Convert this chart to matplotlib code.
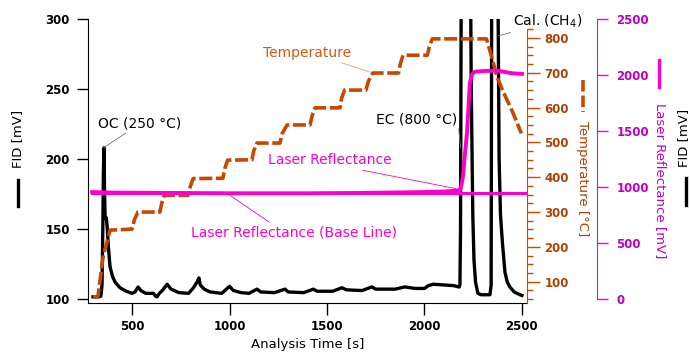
import numpy as np
import matplotlib
matplotlib.use("Agg")
import matplotlib.pyplot as plt
from matplotlib.lines import Line2D

# FID signal [mV]
fid_t = [300, 330, 340, 346, 350, 353, 356, 359, 362, 368, 372, 378, 387, 400, 413, 438, 470, 500,
         515, 531, 545, 570, 610, 620, 628, 640, 655, 680, 700, 740, 790, 815, 833, 843, 850, 870,
         900, 960, 1000, 1020, 1060, 1100, 1141, 1160, 1230, 1285, 1300, 1380, 1430, 1450, 1530,
         1576, 1600, 1680, 1730, 1750, 1850, 1900, 1950, 2000, 2020, 2045, 2100, 2150, 2178,
         2182, 2185, 2190, 2200, 2215, 2225, 2233, 2240, 2248, 2254, 2262, 2274, 2290, 2336,
         2342, 2346, 2355, 2365, 2372, 2378, 2383, 2390, 2400, 2413, 2425, 2438, 2460, 2490, 2500]
fid_v = [101.5, 101.5, 102, 110, 150, 190, 208, 175, 158, 158, 152, 138, 123, 116, 112, 108, 105.5, 104,
         105, 108.5, 106, 104, 104, 102, 101.5, 104, 106, 110.5, 107, 104.5, 104, 108, 112, 115, 110, 107,
         105, 104, 109, 106, 104.5, 104, 107, 105, 104.5, 107, 105, 104.5, 107, 105.5, 105.5,
         108, 106.5, 106, 108.6, 107, 107, 108.6, 107.5, 107.5, 109.5, 110.5, 110, 109.5, 108.5,
         110, 150, 400, 1500, 2500, 1500, 400, 250, 160, 128, 112, 104, 103, 103,
         110, 400, 2000, 2500, 1000, 300, 200, 160, 140, 119, 112, 108.6, 105, 103, 102.5]

# oven temperature [C]
temp_t = [300, 325, 351, 387, 500, 512, 530, 643, 652, 665, 787, 798, 813, 966, 976, 990,
          1115, 1124, 1140, 1259, 1270, 1295, 1413, 1423, 1438, 1567, 1574, 1590, 1700, 1712, 1735,
          1867, 1876, 1890, 2015, 2025, 2040, 2318, 2345, 2372, 2400, 2450, 2497]
temp_v = [56, 58, 170, 248, 251, 278, 300, 300, 325, 348, 348, 372, 396, 397, 425, 449,
          450, 475, 498, 498, 525, 550, 550, 575, 599, 599, 625, 650, 650, 675, 699,
          699, 725, 750, 750, 775, 797, 797, 745, 688, 650, 590, 526]

# laser reflectance [mV]
laser_t = [295, 400, 600, 800, 1000, 1200, 1400, 1600, 1800, 2000, 2100, 2150, 2170, 2182,
           2190, 2197, 2208, 2218, 2226, 2233, 2245, 2260, 2300, 2372, 2450, 2500]
laser_v = [955, 950, 948, 946, 944, 944, 944, 946, 950, 955, 960, 965, 968, 975,
           1020, 1090, 1300, 1480, 1720, 1930, 2010, 2030, 2035, 2040, 2015, 2010]
base_t = [295, 2515]
base_v = [944, 944]

x_ticks = [500, 1000, 1500, 2000, 2500]
fid_ticks = [100, 150, 200, 250, 300]
temp_ticks = [100, 200, 300, 400, 500, 600, 700, 800]
laser_ticks = [0, 500, 1000, 1500, 2000, 2500]

c_temp = "#c84800"
c_temp_lbl = "#b04000"
c_laser = "#ff00cc"
c_laser_lbl = "#c000c0"

fig = plt.figure(figsize=(6.9, 3.63), dpi=100)
ax = fig.add_axes([88/690, 1-303/363, 439/690, 284/363])
ax_t = ax.twinx()
ax_l = ax.twinx()

ax.plot(fid_t, fid_v, color="black", lw=2.4, solid_joinstyle="round")
ax_t.plot(temp_t, temp_v, color=c_temp, lw=2.6, dashes=(3.6, 1.0))
ax_l.plot(base_t, base_v, color=c_laser, lw=2.2)
ax_l.plot(laser_t, laser_v, color=c_laser, lw=2.8)

ax.set_xlim(274, 2526)
ax.set_ylim(97.1, 300)
ax_t.set_ylim(39, 854)
ax_l.set_ylim(-35.7, 2500)

# FID axis
for s in ["top", "right"]:
    ax.spines[s].set_visible(False)
ax.set_xticks(x_ticks)
ax.set_xticklabels([str(v) for v in x_ticks], fontweight="bold", fontsize=8.5)
ax.set_yticks(fid_ticks)
ax.set_yticklabels([str(v) for v in fid_ticks], fontweight="bold", fontsize=8.5)
ax.tick_params(axis="x", length=8.5, width=1, pad=4)
ax.tick_params(axis="y", length=8, width=1, pad=5)
ax.set_xlabel("Analysis Time [s]", fontsize=9.5, labelpad=3)

# temperature axis
for s in ["top", "left", "bottom"]:
    ax_t.spines[s].set_visible(False)
ax_t.spines["right"].set_color(c_temp)
ax_t.spines["right"].set_bounds(39, 826)
ax_t.set_yticks(temp_ticks)
ax_t.set_yticklabels([str(v) for v in temp_ticks], fontweight="bold", fontsize=8.5, color=c_temp_lbl)
ax_t.set_yticks([v for v in np.arange(50, 826, 25) if v % 100 != 0], minor=True)
ax_t.tick_params(axis="y", which="major", length=9.5, width=1, color=c_temp, pad=3)
ax_t.tick_params(axis="y", which="minor", length=4.5, width=1, color=c_temp)

# laser axis
for s in ["top", "left", "bottom"]:
    ax_l.spines[s].set_visible(False)
ax_l.spines["right"].set_position(("axes", 509/439))
ax_l.spines["right"].set_color(c_laser)
ax_l.spines["right"].set_bounds(0, 2500)
ax_l.set_yticks(laser_ticks)
ax_l.set_yticklabels([str(v) for v in laser_ticks], fontweight="bold", fontsize=8.5, color=c_laser_lbl)
ax_l.tick_params(axis="y", length=8, width=1, color=c_laser, pad=6)

# annotations
lead = dict(arrowstyle="-", color="#707070", lw=0.6, shrinkA=0, shrinkB=0)
ax_l.annotate("OC (250 °C)", xy=(354, 208), xycoords=ax.transData,
              xytext=(541, 225.5), textcoords=ax.transData, ha="center", va="center",
              fontsize=10, arrowprops=dict(lead, relpos=(0.38, 0.0)))
ax_l.annotate("EC (800 °C)", xy=(2186, 208), xycoords=ax.transData,
              xytext=(1960, 228.5), textcoords=ax.transData, ha="center", va="center",
              fontsize=10, arrowprops=dict(lead, relpos=(1.0, 0.7)))
ax_l.annotate("Cal. (CH$_4$)", xy=(2380, 288), xycoords=ax.transData,
              xytext=(2630, 298.5), textcoords=ax.transData, ha="center", va="center",
              fontsize=10, annotation_clip=False, arrowprops=dict(lead, relpos=(0.12, 0.0)))
ax_l.annotate("Temperature", xy=(1722, 262), xycoords=ax.transData,
              xytext=(1397, 275.7), textcoords=ax.transData, ha="center", va="center",
              fontsize=10, color="#d05a14",
              arrowprops=dict(lead, color="#f0a070", relpos=(0.8, 0.0)))
ax_l.annotate("Laser Reflectance", xy=(2163, 985), xytext=(1515, 1237),
              ha="center", va="center", fontsize=10, color=c_laser,
              arrowprops=dict(lead, color=c_laser, relpos=(0.65, 0.0)))
ax_l.annotate("Laser Reflectance (Base Line)", xy=(987, 944), xytext=(1331, 598),
              ha="center", va="center", fontsize=10, color=c_laser,
              arrowprops=dict(lead, color=c_laser, relpos=(0.4, 1.0)))

# axis titles with line samples
def fx(px):
    return px / 690

def fy(py):
    return 1 - py / 363

fig.text(fx(18), fy(139), "FID [mV]", rotation=90, ha="center", va="center", fontsize=9.5)
fig.add_artist(Line2D([fx(18), fx(18)], [fy(180), fy(206)], color="black", lw=2.4))
fig.text(fx(684), fy(138), "FID [mV]", rotation=90, ha="center", va="center", fontsize=9.5)
fig.add_artist(Line2D([fx(686), fx(686)], [fy(178), fy(205)], color="black", lw=2.4))
fig.text(fx(583), fy(179), "Temperature [°C]", rotation=270, ha="center", va="center",
         fontsize=9.5, color=c_temp_lbl)
fig.add_artist(Line2D([fx(583), fx(583)], [fy(80), fy(112)], color=c_temp, lw=2.6,
                      dashes=(3.2, 1.1)))
fig.text(fx(660), fy(181), "Laser Reflectance [mV]", rotation=270, ha="center", va="center",
         fontsize=9.5, color=c_laser_lbl)
fig.add_artist(Line2D([fx(659), fx(659)], [fy(60), fy(87)], color=c_laser, lw=2.4))

fig.savefig("out.png", dpi=100)
